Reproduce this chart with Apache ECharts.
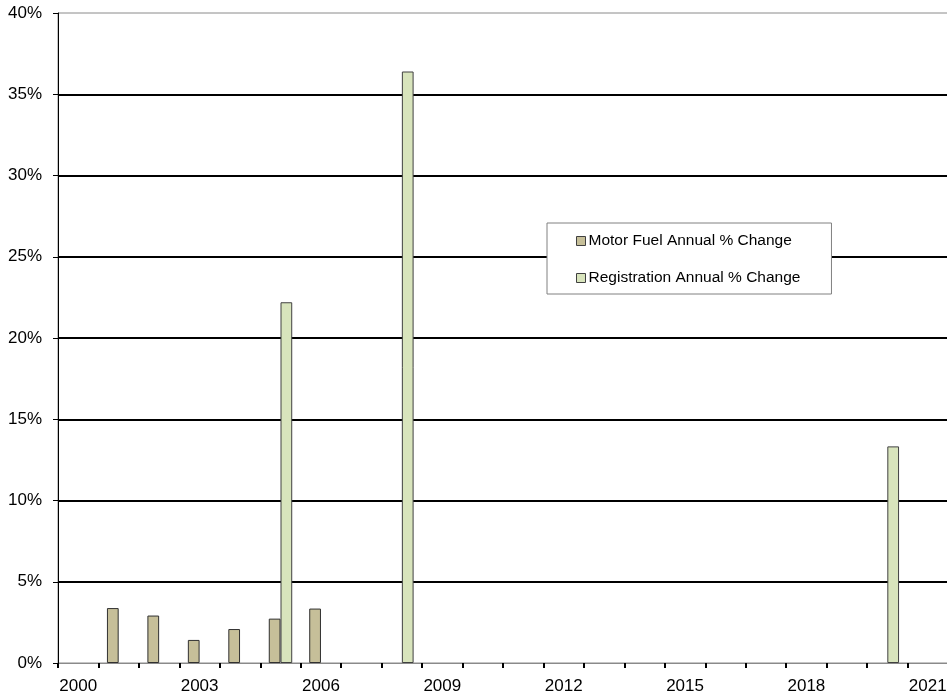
<!DOCTYPE html>
<html>
<head>
<meta charset="utf-8">
<script src="https://cdn.jsdelivr.net/npm/echarts@6/dist/echarts.min.js"></script>
<style>html,body{margin:0;padding:0;background:#fff;}#chart{width:947px;height:696px;}</style>
</head>
<body>
<div id="chart"></div>
<script>
const years = ['2000','2001','2002','2003','2004','2005','2006','2007','2008','2009','2010','2011','2012','2013','2014','2015','2016','2017','2018','2019','2020','2021'];
const motorFuel = [null, 3.38, 2.92, 1.42, 2.09, 2.73, 3.35, null, null, null, null, null, null, null, null, null, null, null, null, null, null, null];
const registration = [null, null, null, null, null, 22.2, null, null, 36.4, null, null, null, null, null, null, null, null, null, null, null, 13.33, null];
const yTicks = [0, 5, 10, 15, 20, 25, 30, 35, 40];

const chart = echarts.init(document.getElementById('chart'), null, {renderer: 'canvas'});
const font = 'Liberation Sans, Arial, sans-serif';
chart.setOption({
  animation: false,
  backgroundColor: '#ffffff',
  grid: {left: 58, top: 13, right: -1, bottom: 33, outerBoundsMode: 'none', containLabel: false,
    show: true, borderColor: '#8a8a8a', borderWidth: 1, backgroundColor: 'transparent'},
  legend: {
    orient: 'vertical', left: 547, top: 223,
    padding: [10, 31, 8, 29], itemGap: 21,
    itemWidth: 9, itemHeight: 9,
    borderColor: '#808080', borderWidth: 1, backgroundColor: '#fff',
    textStyle: {fontFamily: font, fontSize: 15.5, color: '#000', padding: [0,0,0,-2]},
    data: [
      {name: 'Motor Fuel Annual % Change', icon: 'rect', itemStyle: {borderColor: '#404040', borderWidth: 1}},
      {name: 'Registration Annual % Change', icon: 'rect', itemStyle: {borderColor: '#404040', borderWidth: 1}}
    ]
  },
  xAxis: {
    type: 'category', data: years, boundaryGap: true,
    axisLine: {show: true, lineStyle: {color: '#8a8a8a', width: 1}},
    axisTick: {show: true, interval: 0, length: 5, lineStyle: {color: '#000', width: 2}},
    axisLabel: {interval: 2, margin: 15, fontFamily: font, fontSize: 17, color: '#000'},
    splitLine: {show: false}
  },
  yAxis: {
    type: 'value', min: 0, max: 40, interval: 5,
    axisLine: {show: true, lineStyle: {color: '#000', width: 1}},
    axisTick: {show: true, length: 5, lineStyle: {color: '#000', width: 1}},
    axisLabel: {margin: 16, fontFamily: font, fontSize: 17, color: '#000',
      formatter: v => yTicks.includes(v) ? v + '%' : ''},
    splitLine: {show: true, showMinLine: false, showMaxLine: false, lineStyle: {color: '#000', width: 2}}
  },
  series: [
    {name: 'Motor Fuel Annual % Change', type: 'bar', data: motorFuel, barGap: '0%', barCategoryGap: '42%',
      itemStyle: {color: '#c6bf99', borderColor: '#303030', borderWidth: 1}},
    {name: 'Registration Annual % Change', type: 'bar', data: registration, barGap: '0%', barCategoryGap: '42%',
      itemStyle: {color: '#d8e4bc', borderColor: '#404040', borderWidth: 1}}
  ]
});
</script>
</body>
</html>
